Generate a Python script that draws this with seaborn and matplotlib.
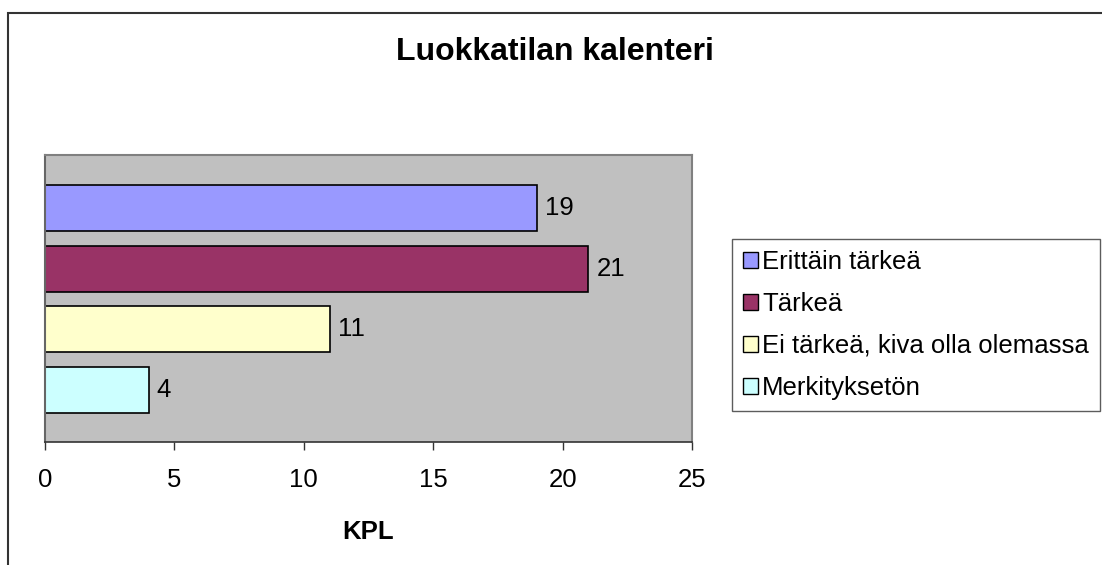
import matplotlib
matplotlib.use("Agg")
import matplotlib.pyplot as plt
from matplotlib.patches import Rectangle, Patch
import seaborn as sns
import pandas as pd

title = "Luokkatilan kalenteri"
xlabel = "KPL"
categories = ["Erittäin tärkeä", "Tärkeä", "Ei tärkeä, kiva olla olemassa", "Merkityksetön"]
values = [19, 21, 11, 4]
colors = ["#9999FF", "#993366", "#FFFFCC", "#CCFFFF"]
xticks = [0, 5, 10, 15, 20, 25]

sns.set_theme(style="white")
plt.rcParams["font.family"] = ["Liberation Sans", "DejaVu Sans"]
plt.rcParams["text.color"] = "black"
plt.rcParams["xtick.color"] = "black"
plt.rcParams["axes.labelcolor"] = "black"

W, H = 1102, 565
fig = plt.figure(figsize=(W / 100, H / 100), dpi=100)
fig.patch.set_facecolor("white")

ax = fig.add_axes([45 / W, 1 - 442 / H, (692 - 45) / W, (442 - 155) / H])
ax.set_facecolor("#C0C0C0")

df = pd.DataFrame({"cat": categories, "val": values})
sns.barplot(data=df, x="val", y="cat", hue="cat", palette=colors, order=categories,
            hue_order=categories, orient="h", width=0.76, edgecolor="black",
            linewidth=1.2, legend=False, ax=ax, saturation=1)

for cont in ax.containers:
    ax.bar_label(cont, padding=6, fontsize=18.5, color="black")

ax.set_xlim(0, 25)
ax.set_ylim(3.857, -0.873)
ax.set_xticks(xticks)
ax.set_xticklabels([str(t) for t in xticks], fontsize=18.5)
ax.set_yticks([])
ax.set_ylabel("")
ax.set_xlabel(xlabel, fontsize=18.5, fontweight="bold", labelpad=20)
ax.tick_params(axis="x", direction="out", length=6, width=1, color="#333333",
               pad=13, bottom=True, labelcolor="black")
for side in ["top", "right"]:
    ax.spines[side].set_color("#808080")
    ax.spines[side].set_linewidth(1.5)
ax.spines["bottom"].set_color("#333333")
ax.spines["bottom"].set_linewidth(1.2)
ax.spines["left"].set_color("#666666")
ax.spines["left"].set_linewidth(1.5)

fig.text(555 / W, 1 - 52 / H, title, fontsize=23, fontweight="bold",
         ha="center", va="center", color="black")

handles = [Patch(facecolor=c, edgecolor="black", linewidth=1.0) for c in colors]
leg = fig.legend(handles, categories, loc="upper left",
                 bbox_to_anchor=(732 / W, 1 - 239 / H), fontsize=18.5,
                 frameon=True, fancybox=False, edgecolor="#333333",
                 handlelength=0.6, handleheight=0.6, handletextpad=0.15,
                 labelspacing=0.7, borderpad=0.42, borderaxespad=0,
                 labelcolor="black")
leg.get_frame().set_linewidth(1.0)

fig.add_artist(Rectangle((8 / W, -0.2), 1.2, 1.2 - 13 / H, transform=fig.transFigure,
                         fill=False, edgecolor="#333333", linewidth=1.5, clip_on=False))

fig.savefig("out.png", dpi=100, facecolor="white")
